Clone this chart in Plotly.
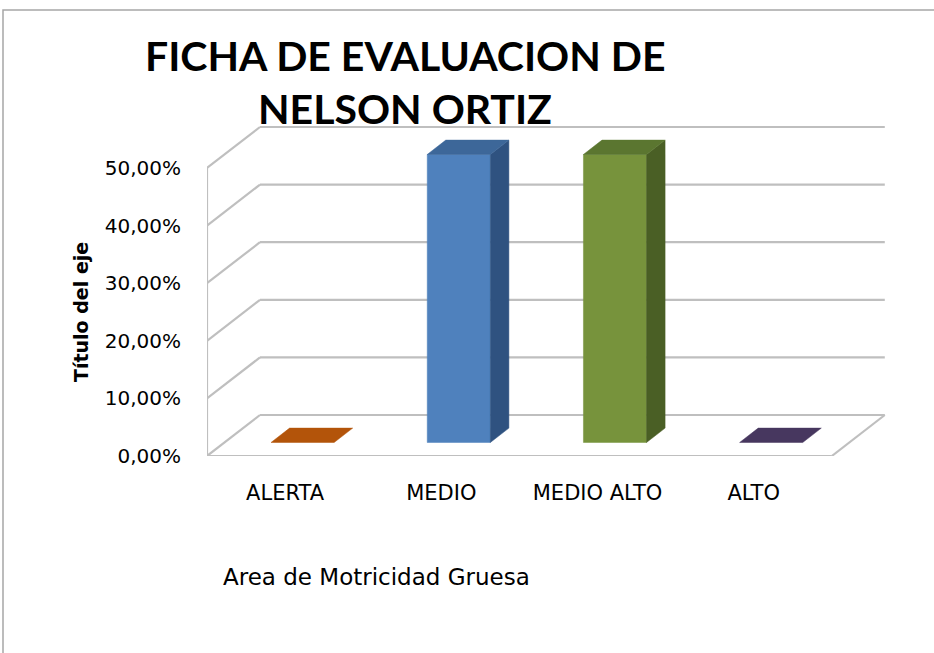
import plotly.graph_objects as go

# ---------------- data ----------------
categories = ["ALERTA", "MEDIO", "MEDIO ALTO", "ALTO"]
values = [0.0, 0.50, 0.50, 0.0]
tick_values = [0.0, 0.1, 0.2, 0.3, 0.4, 0.5]
title_lines = ["FICHA DE EVALUACION DE", "NELSON ORTIZ"]
y_title = "Título del eje"
x_title = "Area de Motricidad Gruesa"

# ---------------- style ----------------
front_colors = ["#F79646", "#4F81BD", "#77933C", "#8064A2"]
side_colors = ["#A9540E", "#2F5280", "#4A5F25", "#3E2F55"]
top_colors = ["#B3540A", "#3D6799", "#5B7630", "#47375F"]
GRID = "#BFBFBF"
TITLE_FONT = "Lato"
FONT = "DejaVu Sans"

W, H = 934, 653
ML, MR, MT, MB = 207, 10, 100, 197          # plot area in pixels
CW = 156.2                                   # px per category
PPU = 576.0                                  # px per unit of value (100%)
DEPTH_DX, DEPTH_DY = 53, 41                  # oblique depth in px
ddx = DEPTH_DX / CW
ddy = DEPTH_DY / PPU
plot_w = W - ML - MR
plot_h = H - MT - MB
x_max = plot_w / CW
y_max = plot_h / PPU
n = len(categories)
bar_w = 0.404
d0, d1 = 0.33, 0.68


def paper_x(px):
    return (px - ML) / plot_w


def paper_y(py):
    return (H - MB - py) / plot_h


fig = go.Figure()

# ---- walls / grid ----
def seg(x0, y0, x1, y1):
    fig.add_trace(go.Scatter(x=[x0, x1], y=[y0, y1], mode="lines",
                             line=dict(color=GRID, width=2.2),
                             hoverinfo="skip", showlegend=False, cliponaxis=False))

for v in tick_values:
    seg(ddx, v + ddy, n + ddx, v + ddy)      # back wall gridline
    seg(0, v, ddx, v + ddy)                  # side wall diagonal
seg(0, 0, 0, max(tick_values))               # front-left wall edge
seg(0, 0, n, 0)                              # floor front edge
seg(n, 0, n + ddx, ddy)                      # floor right edge


def poly(xs, ys, color):
    fig.add_trace(go.Scatter(x=xs + [xs[0]], y=ys + [ys[0]], mode="lines",
                             fill="toself", fillcolor=color,
                             line=dict(color=color, width=0.5),
                             hoverinfo="skip", showlegend=False, cliponaxis=False))


# ---- bars ----
for i, (cat, v) in enumerate(zip(categories, values)):
    c = i + 0.5
    xl0 = c - bar_w / 2 + d0 * ddx
    xr0 = c + bar_w / 2 + d0 * ddx
    xl1 = c - bar_w / 2 + d1 * ddx
    xr1 = c + bar_w / 2 + d1 * ddx
    yb0 = d0 * ddy
    yb1 = d1 * ddy
    if v > 0:
        poly([xl0, xr0, xr0, xl0], [yb0, yb0, v + yb0, v + yb0], front_colors[i])
        poly([xr0, xr1, xr1, xr0], [yb0, yb1, v + yb1, v + yb0], side_colors[i])
    poly([xl0, xr0, xr1, xl1], [v + yb0, v + yb0, v + yb1, v + yb1], top_colors[i])

# ---- annotations ----
ann = []
ann.append(dict(text=title_lines[0], x=paper_x(405), y=paper_y(55), xref="paper", yref="paper",
                showarrow=False, font=dict(family=TITLE_FONT, size=41, color="#000000", weight="bold"),
                xanchor="center", yanchor="middle"))
ann.append(dict(text=title_lines[1], x=paper_x(405), y=paper_y(108), xref="paper", yref="paper",
                showarrow=False, font=dict(family=TITLE_FONT, size=41, color="#000000", weight="bold"),
                xanchor="center", yanchor="middle"))
ann.append(dict(text=y_title, x=paper_x(81), y=paper_y(312), xref="paper", yref="paper",
                showarrow=False, textangle=-90,
                font=dict(family=FONT, size=19, color="#000000", weight="bold"),
                xanchor="center", yanchor="middle"))
ann.append(dict(text=x_title, x=paper_x(376), y=paper_y(577), xref="paper", yref="paper",
                showarrow=False, font=dict(family=FONT, size=23, color="#000000"),
                xanchor="center", yanchor="middle"))

fig.update_layout(
    width=W, height=H,
    margin=dict(l=ML, r=MR, t=MT, b=MB, pad=0),
    paper_bgcolor="white", plot_bgcolor="white",
    separators=",.",
    showlegend=False,
    annotations=ann,
    shapes=[dict(type="rect", xref="paper", yref="paper",
                 x0=paper_x(3), y0=paper_y(H + 60), x1=paper_x(W + 60), y1=paper_y(10),
                 line=dict(color="#A6A6A6", width=1.5), fillcolor="rgba(0,0,0,0)", layer="below")],
    xaxis=dict(range=[0, x_max], showgrid=False, zeroline=False, showline=False,
               tickmode="array", tickvals=[i + 0.5 for i in range(n)], ticktext=categories,
               ticks="outside", ticklen=18, tickcolor="rgba(0,0,0,0)",
               tickfont=dict(family=FONT, size=21, color="#000000")),
    yaxis=dict(range=[0, y_max], showgrid=False, zeroline=False, showline=False,
               tickmode="array", tickvals=tick_values, tickformat=".2%",
               ticks="outside", ticklen=21, tickcolor="rgba(0,0,0,0)",
               tickfont=dict(family=FONT, size=20, color="#000000")),
)

fig.write_html("out.html", config={"displayModeBar": False},
               post_script="document.body.style.margin='0';document.body.style.overflow='hidden';")
